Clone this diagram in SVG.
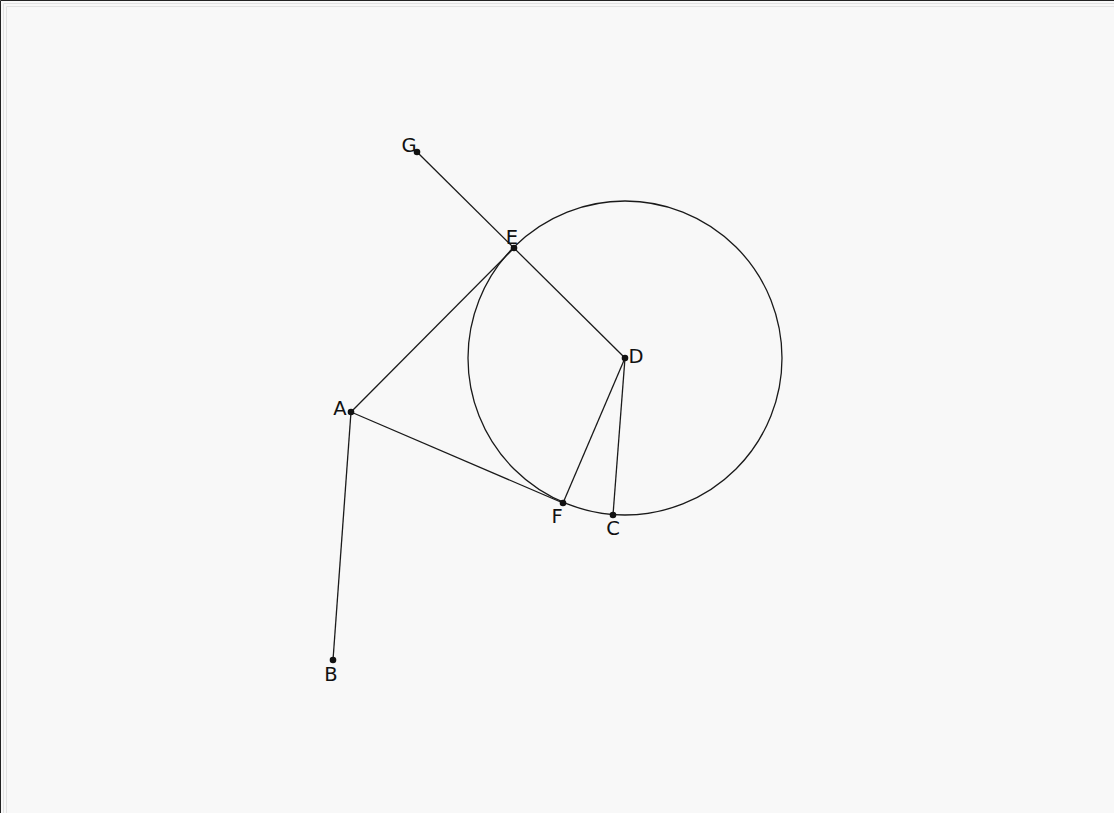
<svg xmlns="http://www.w3.org/2000/svg" width="1114" height="813" viewBox="0 0 1114 813">
<style>
.ln{stroke:#1a1a1a;stroke-width:1.3;fill:none}
.pt{fill:#111}
.lb{font-family:"DejaVu Sans",sans-serif;font-size:19.5px;fill:#111;text-anchor:middle}
</style>
<rect x="0" y="0" width="1114" height="813" fill="#f8f8f8"/>
<path d="M0.5,813V0.5H1114" stroke="#222" stroke-width="1" fill="none"/>
<path d="M3.5,813V3.5H1114M6.5,813V6.5H1114" stroke="#e2e2e2" stroke-width="1" fill="none"/>
<g id="connectors">
<circle class="ln" cx="625" cy="358" r="157"/>
<line class="ln" x1="417" y1="152" x2="625" y2="358"/>
<line class="ln" x1="351" y1="412" x2="514" y2="248"/>
<line class="ln" x1="351" y1="412" x2="563" y2="503"/>
<line class="ln" x1="351" y1="412" x2="333" y2="660"/>
<line class="ln" x1="625" y1="358" x2="563" y2="503"/>
<line class="ln" x1="625" y1="358" x2="613" y2="515"/>
</g>
<g id="G"><circle class="pt" cx="417" cy="152" r="3.3"/><text class="lb" x="409" y="152">G</text></g>
<g id="E"><circle class="pt" cx="514" cy="248" r="3.3"/><text class="lb" x="512" y="244">E</text></g>
<g id="D"><circle class="pt" cx="625" cy="358" r="3.3"/><text class="lb" x="636" y="363">D</text></g>
<g id="A"><circle class="pt" cx="351" cy="412" r="3.3"/><text class="lb" x="340" y="415">A</text></g>
<g id="F"><circle class="pt" cx="563" cy="503" r="3.3"/><text class="lb" x="557" y="523">F</text></g>
<g id="C"><circle class="pt" cx="613" cy="515" r="3.3"/><text class="lb" x="613" y="535">C</text></g>
<g id="B"><circle class="pt" cx="333" cy="660" r="3.3"/><text class="lb" x="331" y="681">B</text></g>
</svg>
